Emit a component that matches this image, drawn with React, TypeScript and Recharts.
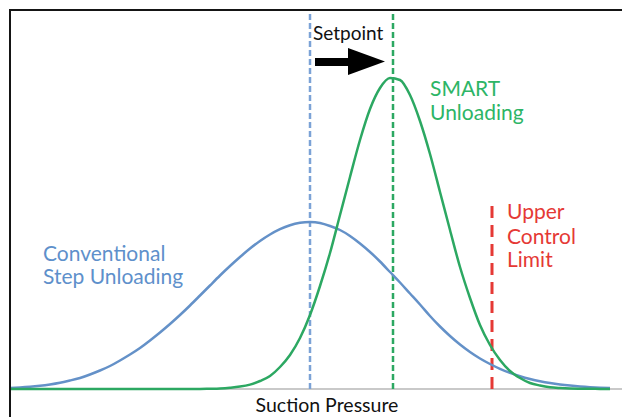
import React from "react";
import { ComposedChart, Line, XAxis, YAxis, ReferenceLine, Customized } from "recharts";

// x positions, one per sample across the pressure range
const xs = [
  0, 1, 2, 3, 4, 5, 6, 7, 8, 9, 10, 11, 12, 13, 14, 15, 16, 17, 18, 19, 20,
  21, 22, 23, 24, 25, 26, 27, 28, 29, 30, 31, 32, 33, 34, 35, 36, 37, 38, 39, 40,
  41, 42, 43, 44, 45, 46, 47, 48, 49, 50, 51, 52, 53, 54, 55, 56, 57, 58, 59, 60,
];

// conventional step unloading (wide curve)
const conventional = [
  1.1, 1.6, 2.3, 3.3, 4.6, 6.3, 8.5, 11, 14.5, 18.5, 23, 28.5, 34.5, 41, 48.5, 56.5, 65, 74, 83.5, 93.5, 103.5,
  113.5, 123, 132, 140.5, 148, 154.5, 159.8, 163.8, 166.2, 167, 166, 163, 159, 153, 145.5, 137, 127.5, 117, 106.5, 95.5,
  84.5, 73, 62.5, 53, 44.5, 37, 30.5, 25, 20.2, 16.2, 12.8, 10, 7.7, 5.9, 4.5, 3.4, 2.5, 1.8, 1.3, 1,
];

// SMART unloading (narrow curve)
const smart = [
  0, 0, 0, 0, 0, 0, 0, 0, 0, 0, 0, 0, 0, 0, 0, 0, 0, 0, 0, 0.1, 0.3,
  0.6, 1.3, 2.4, 4.4, 8, 13, 22, 34, 51, 74, 103, 136, 174, 212, 249, 280, 301, 311, 309, 294,
  268, 235, 197, 159, 122, 91, 64, 44, 29, 18, 11, 6, 3.5, 1.8, 1, 0.5, 0.3, 0.2, 0.1, 0,
];

const conventionalSetpoint = 30;
const smartSetpoint = 38.3;
const upperControlLimit = 48.2;
const upperLimitTop = 184;

const rows = xs.map((x, i) => ({ x, conventional: conventional[i], smart: smart[i] }));

const BLUE = "#6491c8";
const GREEN = "#2ca862";
const RED = "#e53935";
const font = "Lato, 'Open Sans', sans-serif";

const Annotations = () => (
  <g fontFamily={font}>
    <text x={305} y={32} fontSize={19} fill="#111">Setpoint</text>
    <rect x={307} y={50} width={34} height={8} fill="#000" />
    <polygon points="340,40 377,53.5 340,67" fill="#000" />
    <g fill="#2db566" fontSize={21}>
      <text x={422} y={88}>SMART</text>
      <text x={422} y={112}>Unloading</text>
    </g>
    <g fill="#5e90cb" fontSize={21}>
      <text x={35} y={253}>Conventional</text>
      <text x={35} y={276}>Step Unloading</text>
    </g>
    <g fill={RED} fontSize={21}>
      <text x={499} y={211}>Upper</text>
      <text x={499} y={236}>Control</text>
      <text x={499} y={259}>Limit</text>
    </g>
    <text x={319} y={404} fontSize={19.5} fill="#111" textAnchor="middle">Suction Pressure</text>
  </g>
);

export default function App() {
  return (
    <div style={{ position: "relative", width: 622, height: 409 }}>
      <ComposedChart width={622} height={409} data={rows} margin={{ top: 1, right: 0, bottom: 28, left: 2 }}>
        <XAxis dataKey="x" type="number" domain={[0, 62]} hide />
        <YAxis type="number" domain={[0, 380]} hide />
        <ReferenceLine y={0} stroke="#c9c9c9" strokeWidth={2} />
        <ReferenceLine x={conventionalSetpoint} stroke="#7ba2d6" strokeWidth={2.5} strokeDasharray="6 3" />
        <ReferenceLine x={smartSetpoint} stroke={GREEN} strokeWidth={2.5} strokeDasharray="6 3" />
        <ReferenceLine
          segment={[{ x: upperControlLimit, y: 0 }, { x: upperControlLimit, y: upperLimitTop }]}
          stroke={RED}
          strokeWidth={3}
          strokeDasharray="12 7"
        />
        <Line type="natural" dataKey="conventional" stroke={BLUE} strokeWidth={2.5} dot={false} isAnimationActive={false} />
        <Line type="monotone" dataKey="smart" stroke={GREEN} strokeWidth={2.5} dot={false} isAnimationActive={false} />
        <Customized component={<Annotations />} />
      </ComposedChart>
      <div
        style={{
          position: "absolute",
          left: 1,
          top: 1,
          right: 0,
          bottom: 0,
          borderLeft: "2.5px solid #151515",
          borderTop: "2.5px solid #151515",
          pointerEvents: "none",
        }}
      />
    </div>
  );
}
